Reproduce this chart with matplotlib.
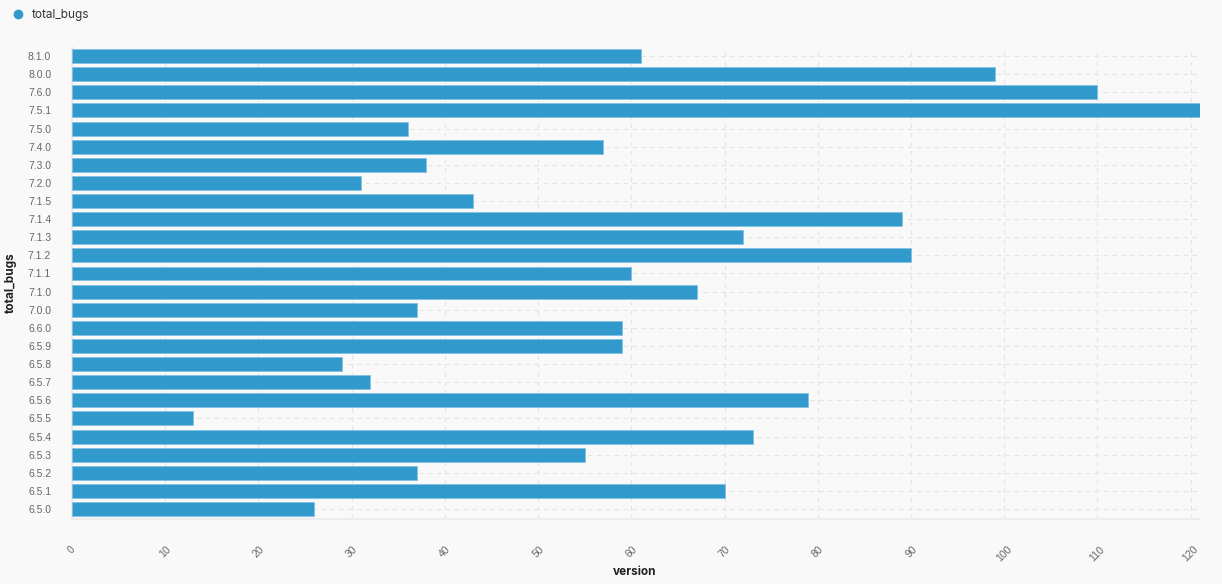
import matplotlib
matplotlib.use('Agg')
import matplotlib.pyplot as plt
from matplotlib.lines import Line2D

versions = ['6.5.0', '6.5.1', '6.5.2', '6.5.3', '6.5.4', '6.5.5', '6.5.6', '6.5.7', '6.5.8',
            '6.5.9', '6.6.0', '7.0.0', '7.1.0', '7.1.1', '7.1.2', '7.1.3', '7.1.4', '7.1.5',
            '7.2.0', '7.3.0', '7.4.0', '7.5.0', '7.5.1', '7.6.0', '8.0.0', '8.1.0']
total_bugs = [26, 70, 37, 55, 73, 13, 79, 32, 29, 59, 59, 37, 67, 60, 90, 72, 89, 43,
              31, 38, 57, 36, 121, 110, 99, 61]
xticks = list(range(0, 121, 10))

bg = '#f9f9f9'
bar_color = '#3199cb'

plt.rcParams['font.family'] = ['Inter', 'DejaVu Sans']

fig = plt.figure(figsize=(12.22, 5.84), dpi=100, facecolor=bg)
ax = fig.add_axes([72/1222, 1 - 519/584, (1200 - 72)/1222, (519 - 47)/584])
ax.set_facecolor(bg)

ax.barh(range(len(versions)), total_bugs, height=0.77, color=bar_color,
        edgecolor='#7fbfe0', linewidth=0.5, zorder=3)

ax.set_yticks(range(len(versions)))
ax.set_yticklabels(versions, family='Liberation Sans', fontsize=7.5)
ax.set_ylim(-0.55, len(versions) - 0.5)
ax.set_xlim(0, 121)
ax.set_xticks(xticks)
ax.set_xticklabels([str(t) for t in xticks], rotation=45, family='Liberation Sans', fontsize=7.5)

ax.tick_params(axis='both', length=0, labelcolor='#666666')
ax.tick_params(axis='x', pad=18)
ax.tick_params(axis='y', pad=15)

ax.grid(True, color='#e4e4e4', linestyle=(0, (4, 4)), linewidth=0.8, zorder=0)

for side in ['top', 'right']:
    ax.spines[side].set_visible(False)
for side in ['left', 'bottom']:
    ax.spines[side].set_color('#ebebeb')
    ax.spines[side].set_linewidth(1.2)

ax.set_xlabel('version', fontsize=8.5, fontweight='bold', color='#222222')
ax.set_ylabel('total_bugs', fontsize=8.5, fontweight='bold', color='#222222')
ax.xaxis.set_label_coords(0.499, -0.099)
ax.yaxis.set_label_coords(-0.049, 0.5)

handle = Line2D([], [], marker='o', linestyle='none', color=bar_color, markersize=6)
fig.legend([handle], ['total_bugs'], loc='upper left', bbox_to_anchor=(-0.004, 1.003),
           frameon=False, fontsize=8.5, handletextpad=0.2, labelcolor='#333333')

fig.savefig('out.png', dpi=100, facecolor=bg)
